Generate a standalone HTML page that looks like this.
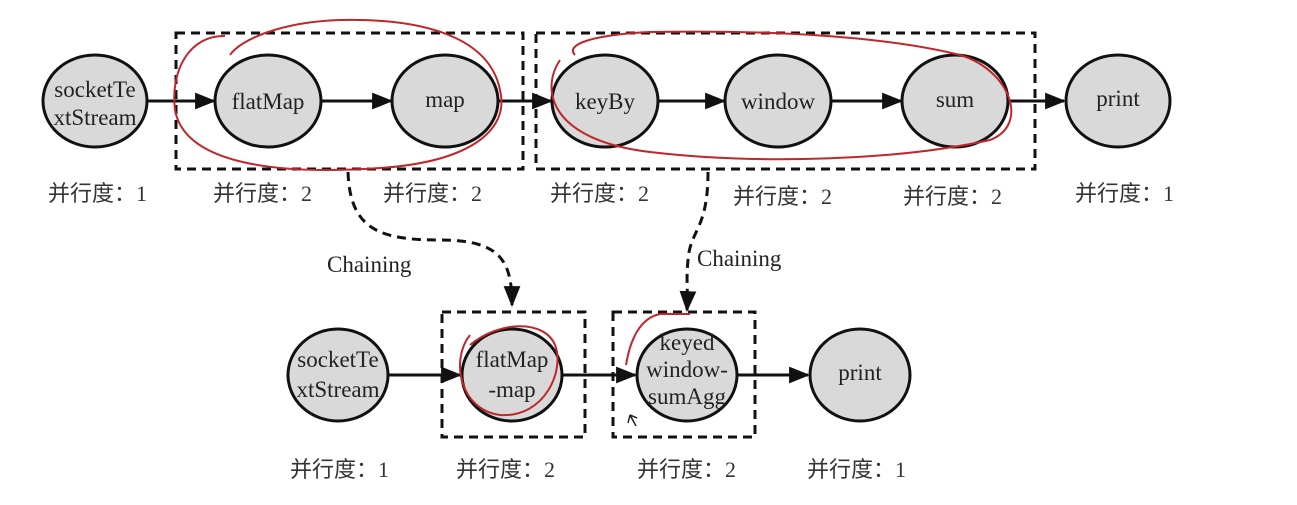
<!DOCTYPE html>
<html><head><meta charset="utf-8"><style>
html,body{margin:0;padding:0;background:#fff;}
svg{display:block;}
text{font-family:"Liberation Serif","Noto Serif CJK SC",serif;font-size:23px;fill:#222;}
.cn{font-family:"Liberation Serif","Noto Sans CJK SC",sans-serif;font-size:22px;fill:#333;}
</style></head><body>
<svg width="1297" height="505" viewBox="0 0 1297 505" xmlns="http://www.w3.org/2000/svg">
<defs><marker id="a" viewBox="0 0 10 10" refX="9" refY="5" markerWidth="7" markerHeight="7" orient="auto"><path d="M0,1 L10,5 L0,9 z" fill="#111"/></marker></defs>
<g fill="none" stroke="#111" stroke-width="3" stroke-dasharray="9,6">
<rect x="176" y="33" width="347" height="136"/>
<rect x="536" y="33" width="499" height="136"/>
<rect x="442" y="312" width="143" height="125"/>
<rect x="613" y="312" width="142" height="125"/>
<path d="M348,172 C350,230 380,240 440,240 C500,240 512,260 512,305" marker-end="url(#a)"/>
<path d="M708,172 C708,230 690,230 688,260 C686,280 688,290 687,310" marker-end="url(#a)"/>
</g>
<g stroke="#111" stroke-width="3" marker-end="url(#a)">
<line x1="147" y1="101" x2="214" y2="101"/>
<line x1="321" y1="101" x2="391" y2="101"/>
<line x1="498" y1="101" x2="551" y2="101"/>
<line x1="658" y1="101" x2="724" y2="101"/>
<line x1="831" y1="101" x2="901" y2="101"/>
<line x1="1008" y1="101" x2="1064" y2="101"/>
<line x1="388" y1="375" x2="460" y2="375"/>
<line x1="562" y1="375" x2="635" y2="375"/>
<line x1="737" y1="375" x2="808" y2="375"/>
</g>
<g fill="#d9d9d9" stroke="#111" stroke-width="3">
<ellipse cx="95" cy="101" rx="52" ry="46"/>
<ellipse cx="268" cy="101" rx="53" ry="46"/>
<ellipse cx="445" cy="101" rx="53" ry="46"/>
<ellipse cx="605" cy="101" rx="53" ry="46"/>
<ellipse cx="778" cy="101" rx="53" ry="46"/>
<ellipse cx="955" cy="101" rx="53" ry="46"/>
<ellipse cx="1118" cy="101" rx="52" ry="46"/>
<ellipse cx="338" cy="375" rx="50" ry="46"/>
<ellipse cx="512" cy="375" rx="50" ry="46"/>
<ellipse cx="687" cy="375" rx="50" ry="46"/>
<ellipse cx="860" cy="375" rx="50" ry="46"/>
</g>
<g text-anchor="middle">
<text x="95" y="97">socketTe</text><text x="95" y="125">xtStream</text>
<text x="268" y="109">flatMap</text>
<text x="445" y="107">map</text>
<text x="605" y="109">keyBy</text>
<text x="778" y="109">window</text>
<text x="955" y="107">sum</text>
<text x="1118" y="106">print</text>
<text x="338" y="367">socketTe</text><text x="338" y="397">xtStream</text>
<text x="512" y="367">flatMap</text><text x="512" y="397">-map</text>
<text x="687" y="350">keyed</text><text x="687" y="377">window-</text><text x="687" y="404">sumAgg</text>
<text x="860" y="380">print</text>
</g>
<text x="327" y="272">Chaining</text>
<text x="697" y="266">Chaining</text>
<g>
<text class="cn" x="48" y="201">并行度：1</text>
<text class="cn" x="213" y="201">并行度：2</text>
<text class="cn" x="383" y="201">并行度：2</text>
<text class="cn" x="550" y="201">并行度：2</text>
<text class="cn" x="733" y="204">并行度：2</text>
<text class="cn" x="903" y="204">并行度：2</text>
<text class="cn" x="1075" y="201">并行度：1</text>
<text class="cn" x="290" y="477">并行度：1</text>
<text class="cn" x="456" y="477">并行度：2</text>
<text class="cn" x="637" y="477">并行度：2</text>
<text class="cn" x="807" y="477">并行度：1</text>
</g>
<g fill="none" stroke="#c0262b" stroke-width="2">
<path d="M225,36 C190,35 170,70 175,110 C185,165 280,175 380,168 C470,162 510,130 500,90 C490,40 430,18 340,20 C280,22 240,40 230,55"/>
<path d="M560,60 C540,90 550,140 650,152 C760,165 900,160 990,140 C1030,125 1010,70 960,55 C880,35 760,30 650,32 C590,35 565,45 575,55"/>
<path d="M470,335 C450,360 460,410 500,415 C545,418 565,370 555,345 C545,320 500,320 470,345"/>
<path d="M626,365 C630,340 640,318 660,314 L690,314"/>
</g>
<path d="M630,415 L636,426 M630,415 L628,423 M630,415 L637,418" stroke="#222" stroke-width="1.5"/>
</svg>
</body></html>
